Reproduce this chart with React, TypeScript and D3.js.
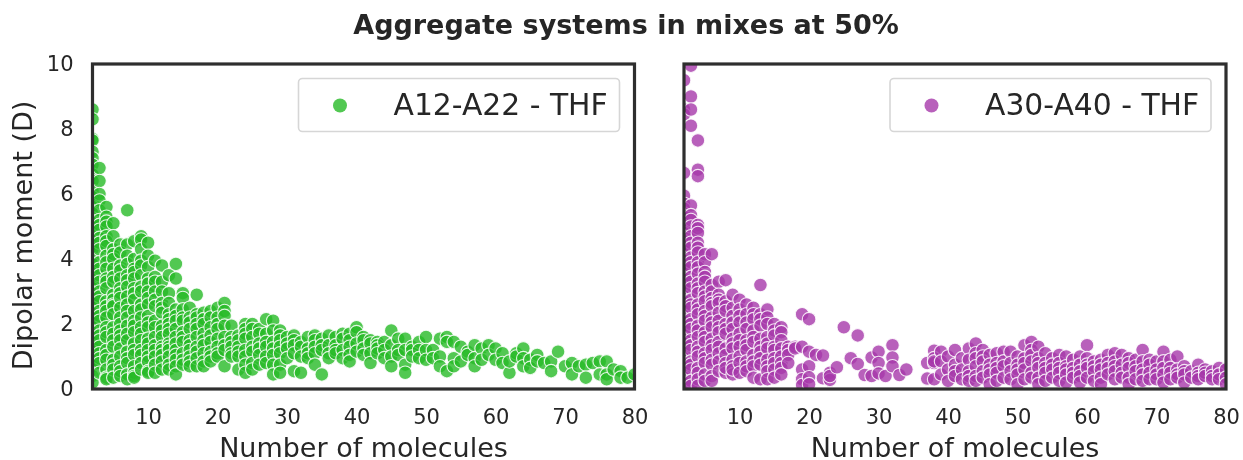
import React, { useRef, useEffect } from 'react';
import * as d3 from 'd3';

const xTicks = [10, 20, 30, 40, 50, 60, 70, 80];
const yTicks = [0, 2, 4, 6, 8, 10];

// values: one row per number of molecules
const a12Counts = [
  2, 3, 4, 5, 6, 7, 8, 9, 10, 11, 12, 13, 14, 15, 16, 17, 18, 19, 20, 21,
  22, 23, 24, 25, 26, 27, 28, 29, 30, 31, 32, 33, 34, 35, 36, 37, 38, 39, 40, 41,
  42, 43, 44, 45, 46, 47, 48, 49, 50, 51, 52, 53, 54, 55, 56, 57, 58, 59, 60, 61,
  62, 63, 64, 65, 66, 67, 68, 69, 70, 71, 72, 73, 74, 75, 76, 77, 78, 79, 80,
];
const a12Dipoles = [
  [8.6, 8.3, 7.7, 7.65, 7.3, 7.1, 6.9, 6.6, 6.4, 6.1, 5.9, 5.75, 5.6, 5.4, 5.25, 5.1, 4.8, 4.6, 4.45, 4.3, 4.0, 3.85, 3.7, 3.4, 3.25, 3.1, 2.8, 2.65, 2.5, 2.2, 2.05, 1.9, 1.6, 1.45, 1.3, 1.0, 0.85, 0.7, 0.4, 0.2],
  [6.8, 6.4, 6.0, 5.8, 5.5, 5.2, 5.05, 4.9, 4.65, 4.5, 4.3, 3.9, 3.7, 3.5, 3.3, 3.0, 2.85, 2.7, 2.4, 2.25, 2.1, 1.8, 1.65, 1.5, 1.3, 1.1, 0.95, 0.8, 0.5],
  [5.6, 5.3, 5.15, 5.0, 4.7, 4.55, 4.4, 4.1, 3.9, 3.7, 3.4, 3.3, 3.1, 2.7, 2.55, 2.4, 2.2, 1.9, 1.75, 1.6, 1.2, 1.05, 0.9, 0.6, 0.35, 0.3],
  [5.1, 4.7, 4.3, 4.15, 4.0, 3.7, 3.45, 3.3, 2.9, 2.75, 2.6, 2.55, 2.3, 1.9, 1.7, 1.5, 1.3, 0.9, 0.75, 0.6, 0.35],
  [4.45, 4.2, 3.8, 3.65, 3.4, 3.1, 2.95, 2.8, 2.5, 2.2, 2.0, 1.8, 1.65, 1.5, 1.25, 1.0, 0.7, 0.55, 0.4],
  [5.5, 4.45, 4.1, 3.85, 3.5, 3.35, 3.15, 2.85, 2.6, 2.4, 2.2, 1.95, 1.7, 1.5, 1.15, 0.95, 0.8, 0.45, 0.3],
  [4.55, 4.0, 3.7, 3.6, 3.4, 3.1, 2.95, 2.75, 2.4, 2.1, 1.95, 1.75, 1.4, 1.2, 1.05, 0.7, 0.5, 0.4, 0.35],
  [4.7, 4.6, 4.3, 3.95, 3.8, 3.5, 3.15, 3.0, 2.6, 2.45, 2.2, 1.9, 1.7, 1.5, 1.2, 1.05, 0.8, 0.6],
  [4.5, 4.1, 3.75, 3.4, 3.25, 3.0, 2.8, 2.6, 2.25, 2.05, 1.9, 1.55, 1.4, 1.2, 1.0, 0.85, 0.55, 0.5],
  [3.95, 3.45, 3.3, 3.0, 2.75, 2.55, 2.1, 1.9, 1.6, 1.35, 1.2, 1.0, 0.75, 0.5],
  [3.8, 3.3, 3.0, 2.65, 2.5, 2.35, 1.95, 1.8, 1.6, 1.3, 1.2, 1.05, 0.85, 0.6],
  [3.5, 2.95, 2.65, 2.3, 2.15, 2.0, 1.85, 1.7, 1.4, 1.3, 1.2, 1.0, 0.75, 0.6],
  [3.85, 3.4, 2.45, 2.25, 2.1, 1.85, 1.6, 1.4, 1.2, 1.05, 0.9, 0.7, 0.45],
  [2.95, 2.8, 2.45, 2.2, 2.1, 1.75, 1.6, 1.45, 1.1, 0.9, 0.75],
  [2.5, 2.2, 2.05, 1.85, 1.5, 1.35, 1.2, 1.0, 0.85, 0.7],
  [2.9, 2.3, 2.2, 2.0, 1.85, 1.6, 1.3, 1.15, 0.95, 0.7],
  [2.35, 2.15, 2.0, 1.7, 1.5, 1.35, 1.1, 0.85, 0.7],
  [2.4, 2.2, 1.9, 1.65, 1.45, 1.15, 1.0, 0.85],
  [2.5, 2.2, 2.0, 1.85, 1.55, 1.3, 1.1, 1.0],
  [2.65, 2.4, 2.25, 1.95, 1.6, 1.35, 1.2, 0.7],
  [1.95, 1.6, 1.45, 1.3, 1.1, 1.0],
  [1.65, 1.5, 1.3, 1.15, 1.0, 0.6],
  [2.0, 1.85, 1.7, 1.55, 1.2, 1.0, 0.75, 0.5],
  [2.0, 1.85, 1.6, 1.3, 1.15, 0.8, 0.6],
  [1.85, 1.7, 1.4, 1.25, 1.05, 0.75],
  [2.15, 1.7, 1.45, 1.3, 1.0, 0.8],
  [2.1, 1.8, 1.45, 1.25, 1.05, 0.75, 0.45],
  [1.8, 1.65, 1.5, 1.3, 1.1, 0.75, 0.5],
  [1.6, 1.4, 1.25, 0.95],
  [1.65, 1.5, 1.35, 1.1, 0.55],
  [1.45, 1.3, 1.0, 0.5],
  [1.6, 1.25, 1.1, 0.95],
  [1.65, 1.5, 1.3, 1.1, 0.75],
  [1.55, 1.35, 1.2, 0.45],
  [1.65, 1.35, 1.1, 0.95],
  [1.6, 1.35, 1.2, 1.1],
  [1.7, 1.55, 1.2, 0.95],
  [1.7, 1.5, 1.3, 1.05, 0.85],
  [1.9, 1.75, 1.4, 1.15],
  [1.6, 1.5, 1.25, 1.05],
  [1.5, 1.4, 1.1, 0.8],
  [1.45, 1.35, 1.25, 1.1],
  [1.45, 1.2, 0.95],
  [1.8, 1.35, 1.0, 0.7],
  [1.55, 1.2, 1.05],
  [1.55, 1.2, 0.75, 0.5],
  [1.3, 1.2, 1.0],
  [1.45, 1.2, 0.95],
  [1.6, 1.2, 0.9],
  [1.2, 0.95],
  [1.55, 1.0, 0.7],
  [1.6, 1.45, 0.55],
  [1.45, 0.95, 0.7],
  [1.3, 0.85],
  [1.15, 1.05],
  [1.35, 0.95, 0.7],
  [1.25, 0.9],
  [1.35, 1.05],
  [1.25, 0.9],
  [1.1, 0.8],
  [0.5, 0.85],
  [1.1, 1.0],
  [1.25, 0.95, 0.7],
  [0.9, 0.65],
  [1.05, 0.85],
  [0.8],
  [0.85, 0.55],
  [1.15],
  [0.7],
  [0.8, 0.45],
  [0.7],
  [0.75, 0.35],
  [0.8],
  [0.85, 0.45],
  [0.85, 0.45, 0.3],
  [0.6],
  [0.55, 0.35],
  [0.35],
  [0.45],
];

const a30Counts = [
  2, 3, 4, 5, 6, 7, 8, 9, 10, 11, 12, 13, 14, 15, 16, 17, 18, 19, 20, 21,
  22, 23, 24, 25, 26, 27, 28, 29, 30, 31, 32, 33, 34, 37, 38, 39, 40, 41,
  42, 43, 44, 45, 46, 47, 48, 49, 50, 51, 52, 53, 54, 55, 56, 57, 58, 59, 60, 61,
  62, 63, 64, 65, 66, 67, 68, 69, 70, 71, 72, 73, 74, 75, 76, 77, 78, 79, 80,
];
const a30Dipoles = [
  [9.5, 8.6, 8.45, 6.65, 5.95, 5.7, 5.55, 5.4, 5.1, 4.95, 4.8, 4.55, 4.4, 4.25, 3.95, 3.8, 3.7, 3.4, 3.25, 3.1, 2.85, 2.7, 2.55, 2.25, 2.1, 1.95, 1.7, 1.55, 1.4, 1.1, 0.95, 0.8, 0.5, 0.35, 0.2],
  [9.95, 9.0, 8.6, 8.1, 5.65, 5.35, 5.2, 5.0, 4.7, 4.5, 4.35, 4.05, 3.9, 3.75, 3.45, 3.3, 3.1, 2.75, 2.6, 2.5, 2.15, 2.0, 1.85, 1.5, 1.35, 1.2, 0.85, 0.75, 0.6, 0.25, 0.1],
  [7.65, 6.75, 6.55, 5.05, 4.95, 4.8, 4.5, 4.35, 4.2, 3.9, 3.75, 3.55, 3.25, 3.1, 2.95, 2.6, 2.45, 2.3, 1.95, 1.8, 1.6, 1.3, 1.15, 1.0, 0.65, 0.5, 0.3, 0.1],
  [4.15, 3.9, 3.6, 3.45, 3.3, 3.0, 2.85, 2.7, 2.4, 2.25, 2.1, 1.75, 1.6, 1.45, 1.1, 0.95, 0.8, 0.45, 0.25],
  [4.15, 3.2, 3.0, 2.8, 2.65, 2.55, 2.2, 2.05, 1.9, 1.55, 1.35, 1.2, 0.9, 0.75, 0.4, 0.25],
  [3.3, 2.9, 2.75, 2.65, 2.35, 2.1, 1.9, 1.75, 1.45, 1.3, 1.1, 0.85, 0.55],
  [3.35, 2.7, 2.55, 2.4, 2.0, 1.85, 1.7, 1.25, 1.05, 0.8, 0.5, 0.65],
  [2.9, 2.5, 2.25, 2.05, 1.85, 1.55, 1.4, 1.25, 0.9, 0.7, 0.45, 0.6],
  [2.75, 2.45, 2.25, 2.05, 1.7, 1.5, 1.3, 1.0, 0.8, 0.5],
  [2.6, 2.3, 2.05, 1.85, 1.5, 1.35, 1.2, 0.85, 0.7, 0.55],
  [2.5, 2.3, 2.15, 1.8, 1.6, 1.45, 1.05, 0.85, 0.7, 0.35],
  [3.2, 2.3, 2.15, 1.95, 1.55, 1.3, 1.15, 0.95, 0.75, 0.3],
  [2.45, 2.2, 2.0, 1.6, 1.4, 1.25, 0.9, 0.7, 0.55, 0.3],
  [2.0, 1.8, 1.65, 1.3, 1.2, 0.95, 0.8, 0.6, 0.35],
  [1.9, 1.75, 1.5, 1.25, 1.0, 0.8, 0.65, 0.45],
  [1.3, 1.2, 1.05, 0.8],
  [1.3, 1.25],
  [2.3, 1.3, 0.6, 0.3, 0.12],
  [2.15, 1.15, 0.7, 0.36, 0.15],
  [1.05],
  [1.03, 0.33],
  [0.5, 0.28, 0.4],
  [0.67],
  [1.9],
  [0.95],
  [1.65, 0.77],
  [0.43],
  [0.97, 0.4],
  [1.15, 0.8, 0.48],
  [0.4],
  [1.35, 0.97, 0.7],
  [0.43],
  [0.6],
  [0.8, 0.32],
  [1.18, 0.95, 0.8, 0.85, 0.3],
  [1.15, 0.85, 0.45],
  [1.0, 0.6, 0.25],
  [1.2, 0.75, 0.55, 0.4],
  [0.95, 0.6, 0.3],
  [1.25, 0.9, 0.55, 0.4, 0.25],
  [1.4, 1.1, 0.95, 0.7, 0.4, 0.25],
  [1.2, 1.0, 0.85, 0.55, 0.35],
  [1.05, 0.75, 0.6, 0.45, 0.15],
  [1.1, 0.8, 0.65, 0.5, 0.25],
  [1.15, 0.85, 0.7, 0.35],
  [1.15, 0.8, 0.55, 0.3],
  [1.0, 0.75, 0.6, 0.45, 0.15],
  [1.35, 0.95, 0.8, 0.6, 0.3],
  [1.45, 1.2, 1.05, 0.85, 0.5, 0.35],
  [1.3, 0.95, 0.8, 0.65, 0.35, 0.15],
  [1.1, 0.8, 0.65, 0.5, 0.25],
  [0.95, 0.75, 0.6, 0.35],
  [1.05, 0.8, 0.65, 0.5, 0.25],
  [1.0, 0.7, 0.6, 0.45, 0.2],
  [0.9, 0.65, 0.5, 0.35],
  [1.0, 0.75, 0.55, 0.4, 0.2],
  [1.35, 0.95, 0.75, 0.65, 0.35],
  [0.85, 0.7, 0.55, 0.25],
  [0.9, 0.75, 0.6, 0.35, 0.15],
  [1.05, 0.8, 0.65, 0.45],
  [1.1, 0.85, 0.7, 0.55, 0.3],
  [1.05, 0.75, 0.5, 0.35],
  [0.95, 0.8, 0.65, 0.35, 0.15],
  [0.9, 0.7, 0.55, 0.3],
  [1.2, 0.85, 0.6, 0.45, 0.25],
  [0.9, 0.75, 0.5, 0.3],
  [0.85, 0.6, 0.45, 0.3],
  [1.15, 0.85, 0.65, 0.45, 0.2],
  [0.9, 0.65, 0.5, 0.3],
  [1.0, 0.6, 0.45, 0.35],
  [0.7, 0.55, 0.45, 0.2],
  [0.55, 0.35],
  [0.75, 0.5, 0.4, 0.3],
  [0.6, 0.5, 0.4],
  [0.55, 0.4, 0.3],
  [0.65, 0.45, 0.3],
  [0.6, 0.35, 0.15],
];

const titleText = 'Aggregate systems in mixes at 50%';
const xAxisTitle = 'Number of molecules';
const yAxisTitle = 'Dipolar moment (D)';
const a12Label = 'A12-A22 - THF';
const a30Label = 'A30-A40 - THF';

const width = 1243;
const height = 460;
const ink = '#262626';
const font = '"DejaVu Sans", sans-serif';

const App: React.FC = () => {
  const ref = useRef<SVGSVGElement | null>(null);

  useEffect(() => {
    if (!ref.current) return;
    const svg = d3.select(ref.current);
    svg.selectAll('*').remove();
    svg.style('font-family', font);

    svg.append('text')
      .attr('x', 626)
      .attr('y', 34)
      .attr('text-anchor', 'middle')
      .attr('font-size', 27)
      .attr('font-weight', 'bold')
      .attr('fill', ink)
      .text(titleText);

    const y = d3.scaleLinear().domain([0, 10]).range([389, 64]);

    const drawPanel = (
      id: string,
      left: number,
      right: number,
      counts: number[],
      dipoles: number[][],
      color: string,
      label: string,
      showY: boolean,
    ) => {
      const x = d3.scaleLinear().domain([2, 80]).range([left, right]);
      const g = svg.append('g');

      g.append('clipPath').attr('id', id)
        .append('rect')
        .attr('x', left).attr('y', 64)
        .attr('width', right - left).attr('height', 325);

      const points = counts.flatMap((n, i) => dipoles[i].map(v => ({ n, v })));
      g.append('g')
        .attr('clip-path', `url(#${id})`)
        .selectAll('circle')
        .data(points)
        .join('circle')
        .attr('cx', d => x(d.n))
        .attr('cy', d => y(d.v))
        .attr('r', 6.8)
        .attr('fill', color)
        .attr('fill-opacity', 0.8)
        .attr('stroke', '#fff')
        .attr('stroke-opacity', 0.85)
        .attr('stroke-width', 1.1);

      const xAxis = g.append('g')
        .attr('transform', 'translate(0,389)')
        .call(d3.axisBottom(x).tickValues(xTicks).tickSize(0).tickPadding(20.5));
      xAxis.select('.domain').remove();
      xAxis.selectAll('text').attr('font-size', 21).attr('font-family', font).attr('fill', ink);

      if (showY) {
        const yAxis = g.append('g')
          .attr('transform', `translate(${left},0)`)
          .call(d3.axisLeft(y).tickValues(yTicks).tickSize(0).tickPadding(19));
        yAxis.select('.domain').remove();
        yAxis.selectAll('text').attr('font-size', 21).attr('font-family', font).attr('fill', ink);

        g.append('text')
          .attr('transform', `translate(32,${(64 + 389) / 2 + 9}) rotate(-90)`)
          .attr('text-anchor', 'middle')
          .attr('font-size', 27)
          .attr('fill', ink)
          .text(yAxisTitle);
      }

      g.append('text')
        .attr('x', (left + right) / 2)
        .attr('y', 456.5)
        .attr('text-anchor', 'middle')
        .attr('font-size', 27)
        .attr('fill', ink)
        .text(xAxisTitle);

      // frame
      g.append('rect')
        .attr('x', left).attr('y', 64)
        .attr('width', right - left).attr('height', 325)
        .attr('fill', 'none')
        .attr('stroke', '#2e2e2e')
        .attr('stroke-width', 3.2);

      // legend
      const boxLeft = right - 336;
      g.append('rect')
        .attr('x', boxLeft).attr('y', 78.5)
        .attr('width', 321).attr('height', 53)
        .attr('rx', 4)
        .attr('fill', '#fff')
        .attr('fill-opacity', 0.8)
        .attr('stroke', '#d6d6d6')
        .attr('stroke-width', 1.6);
      g.append('circle')
        .attr('cx', boxLeft + 41.5).attr('cy', 105.5)
        .attr('r', 7)
        .attr('fill', color)
        .attr('fill-opacity', 0.8);
      g.append('text')
        .attr('x', boxLeft + 95)
        .attr('y', 115)
        .attr('font-size', 29.8)
        .attr('fill', ink)
        .text(label);
    };

    drawPanel('clip-a12', 92.5, 634.5, a12Counts, a12Dipoles, '#27ba27', a12Label, true);
    drawPanel('clip-a30', 684, 1226, a30Counts, a30Dipoles, '#a638aa', a30Label, false);
  }, []);

  return (
    <svg
      ref={ref}
      width={width}
      height={height}
      style={{ position: 'absolute', left: 0, top: 0, background: '#fff', filter: 'blur(0.45px)' }}
    />
  );
};

export default App;
